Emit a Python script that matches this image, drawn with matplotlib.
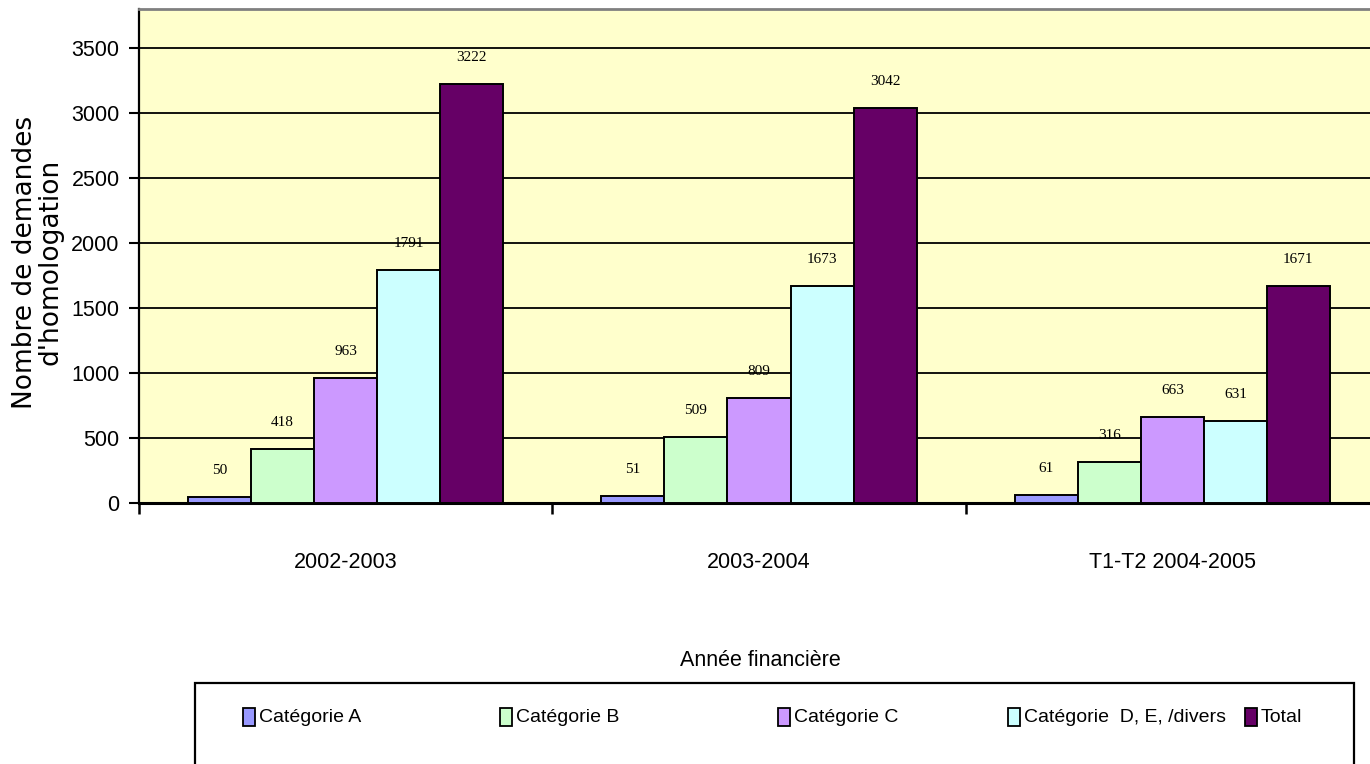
import numpy as np
import matplotlib
matplotlib.use("Agg")
import matplotlib.pyplot as plt
from matplotlib.patches import Rectangle

# données
annees = ["2002-2003", "2003-2004", "T1-T2 2004-2005"]
categories = ["Catégorie A", "Catégorie B", "Catégorie C",
              "Catégorie  D, E, /divers", "Total"]
cat_a = [50, 51, 61]
cat_b = [418, 509, 316]
cat_c = [963, 809, 663]
cat_d = [1791, 1673, 631]
total = [3222, 3042, 1671]
series = [cat_a, cat_b, cat_c, cat_d, total]
couleurs = ["#9999FF", "#CCFFCC", "#CC99FF", "#CCFFFF", "#660066"]

sans = ["Liberation Sans", "DejaVu Sans"]
W, H = 1370, 764

fig = plt.figure(figsize=(W / 100, H / 100), dpi=100)
ax = fig.add_axes([139 / W, 1 - 503 / H, (1379 - 139) / W, (503 - 9) / H])
ax.set_facecolor("#FFFFCC")

x = np.arange(len(annees))
largeur = 0.1525
for k, (vals, coul) in enumerate(zip(series, couleurs)):
    pos = x + (k - 2) * largeur
    ax.bar(pos, vals, width=largeur, color=coul, edgecolor="black",
           linewidth=1.4, zorder=3)
    for xi, v in zip(pos, vals):
        ax.annotate(str(v), (xi, v), xytext=(0, 19), textcoords="offset points",
                    ha="center", va="center", fontsize=11,
                    family="Liberation Serif", zorder=4)

ax.set_xlim(-0.5, 2.5)
ax.set_ylim(0, 3800)
ax.set_yticks(np.arange(0, 3501, 500))
ax.yaxis.grid(True, color="black", linewidth=1.3, zorder=1)
ax.set_axisbelow(True)

ax.set_xticks(x)
ax.set_xticklabels(annees, family=sans, fontsize=15.5)
ax.set_xticks([-0.5, 0.5, 1.5, 2.5], minor=True)
ax.tick_params(axis="x", which="major", length=0, pad=35)
ax.tick_params(axis="x", which="minor", length=8, width=1.8, direction="out")
ax.tick_params(axis="y", length=7, width=1.5, direction="out", pad=7)
for lab in ax.get_yticklabels():
    lab.set_family(sans)
    lab.set_fontsize(15.5)

ax.spines["top"].set_color("#808080")
ax.spines["top"].set_linewidth(2)
ax.spines["right"].set_visible(False)
ax.spines["left"].set_linewidth(1.6)
ax.spines["bottom"].set_linewidth(2.2)

fig.text(760 / W, 1 - 660 / H, "Année financière", ha="center", va="center",
         family=sans, fontsize=15.5)
fig.text(38 / W, 1 - 262 / H, "Nombre de demandes\nd'homologation",
         rotation=90, ha="center", va="center", multialignment="center",
         family="DejaVu Sans", fontsize=19, linespacing=1.0)

# légende dessinée à la main (positions irrégulières comme dans l'original)
fig.patches.append(Rectangle((195 / W, -0.05), (1354 - 195) / W,
                             1 - 683 / H + 0.05, transform=fig.transFigure,
                             facecolor="none", edgecolor="black", linewidth=1.6))
leg_x = [243, 500, 778, 1008, 1245]
for lx, nom, coul in zip(leg_x, categories, couleurs):
    fig.patches.append(Rectangle((lx / W, 1 - 726 / H), 12 / W, 18 / H,
                                 transform=fig.transFigure, facecolor=coul,
                                 edgecolor="black", linewidth=1.3))
    fig.text((lx + 16) / W, 1 - 717 / H, nom, ha="left", va="center",
             family=sans, fontsize=14)

fig.savefig("out.png", dpi=100)
